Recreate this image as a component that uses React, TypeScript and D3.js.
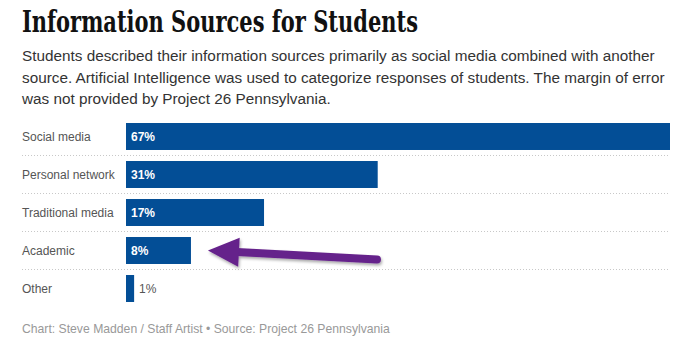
import React from "react";
import * as d3 from "d3";

const categories = ["Social media", "Personal network", "Traditional media", "Academic", "Other"];
const values = [67, 31, 17, 8, 1];
const valueLabels = ["67%", "31%", "17%", "8%", "1%"];
const title = "Information Sources for Students";
const subtitleLines = [
  "Students described their information sources primarily as social media combined with another",
  "source. Artificial Intelligence was used to categorize responses of students. The margin of error",
  "was not provided by Project 26 Pennsylvania.",
];
const footer = "Chart: Steve Madden / Staff Artist \u2022 Source: Project 26 Pennsylvania";
const highlighted = "Academic";

const W = 687;
const H = 342;
const SANS = "'Liberation Sans', Arial, sans-serif";

export default function App() {
  const x = d3.scaleLinear().domain([0, 67]).range([126, 670]);
  const y = d3
    .scaleBand<string>()
    .domain(categories)
    .range([117.5, 307.5])
    .paddingInner(0.29)
    .paddingOuter(0.145);
  const step = y.step();
  const bw = y.bandwidth();

  // arrow annotation anchored to highlighted bar
  const hi = categories.indexOf(highlighted);
  const tipX = x(values[hi]) + 17;
  const tipY = (y(highlighted) as number) + bw / 2;
  const tailX = tipX + 169;
  const tailY = tipY + 9;
  const dx = tailX - tipX;
  const dy = tailY - tipY;
  const len = Math.hypot(dx, dy);
  const ux = dx / len;
  const uy = dy / len;
  const headLen = 31;
  const headHalf = 14.5;
  const bx = tipX + ux * headLen;
  const by = tipY + uy * headLen;
  const px = -uy;
  const py = ux;
  const headPath = `M${tipX},${tipY} L${bx + px * headHalf},${by + py * headHalf} L${bx - px * headHalf},${by - py * headHalf} Z`;

  return (
    <svg
      width={W}
      height={H}
      style={{ position: "absolute", left: 0, top: 0, background: "#fff" }}
    >
      <defs>
        <filter id="shadow" x="-20%" y="-50%" width="140%" height="200%">
          <feDropShadow dx="1" dy="2" stdDeviation="1.5" floodColor="#000" floodOpacity="0.35" />
        </filter>
      </defs>
      <text
        x={22}
        y={32}
        fontFamily="'DejaVu Serif Condensed', 'DejaVu Serif', serif"
        fontWeight="bold"
        fontSize={29}
        fill="#111"
        textLength={396}
        lengthAdjust="spacingAndGlyphs"
      >
        {title}
      </text>
      {subtitleLines.map((l, i) => (
        <text key={i} x={22} y={61 + i * 21.5} fontFamily={SANS} fontSize={15.3} fill="#333">
          {l}
        </text>
      ))}

      {categories.slice(1).map((c) => (
        <line
          key={c}
          x1={22}
          x2={670}
          y1={(y(c) as number) - (step - bw) / 2}
          y2={(y(c) as number) - (step - bw) / 2}
          stroke="#c8c8c8"
          strokeDasharray="1,2"
        />
      ))}

      {categories.map((c, i) => {
        const y0 = y(c) as number;
        const inside = values[i] > 4;
        return (
          <g key={c}>
            <text x={22} y={y0 + bw / 2 + 4} fontFamily={SANS} fontSize={12} fill="#555">
              {c}
            </text>
            <rect x={x(0)} y={y0} width={x(values[i]) - x(0)} height={bw} fill="#034e96" />
            <text
              x={inside ? x(0) + 5 : x(values[i]) + 5}
              y={y0 + bw / 2 + 4.5}
              fontFamily={SANS}
              fontSize={12}
              fontWeight={inside ? "bold" : "normal"}
              fill={inside ? "#fff" : "#555"}
            >
              {valueLabels[i]}
            </text>
          </g>
        );
      })}

      <g filter="url(#shadow)">
        <line
          x1={bx - ux * 2}
          y1={by - uy * 2}
          x2={tailX}
          y2={tailY}
          stroke="#65218b"
          strokeWidth={8}
          strokeLinecap="round"
        />
        <path d={headPath} fill="#65218b" />
      </g>

      <text x={22} y={332.5} fontFamily={SANS} fontSize={12.2} fill="#999">
        {footer}
      </text>
    </svg>
  );
}
